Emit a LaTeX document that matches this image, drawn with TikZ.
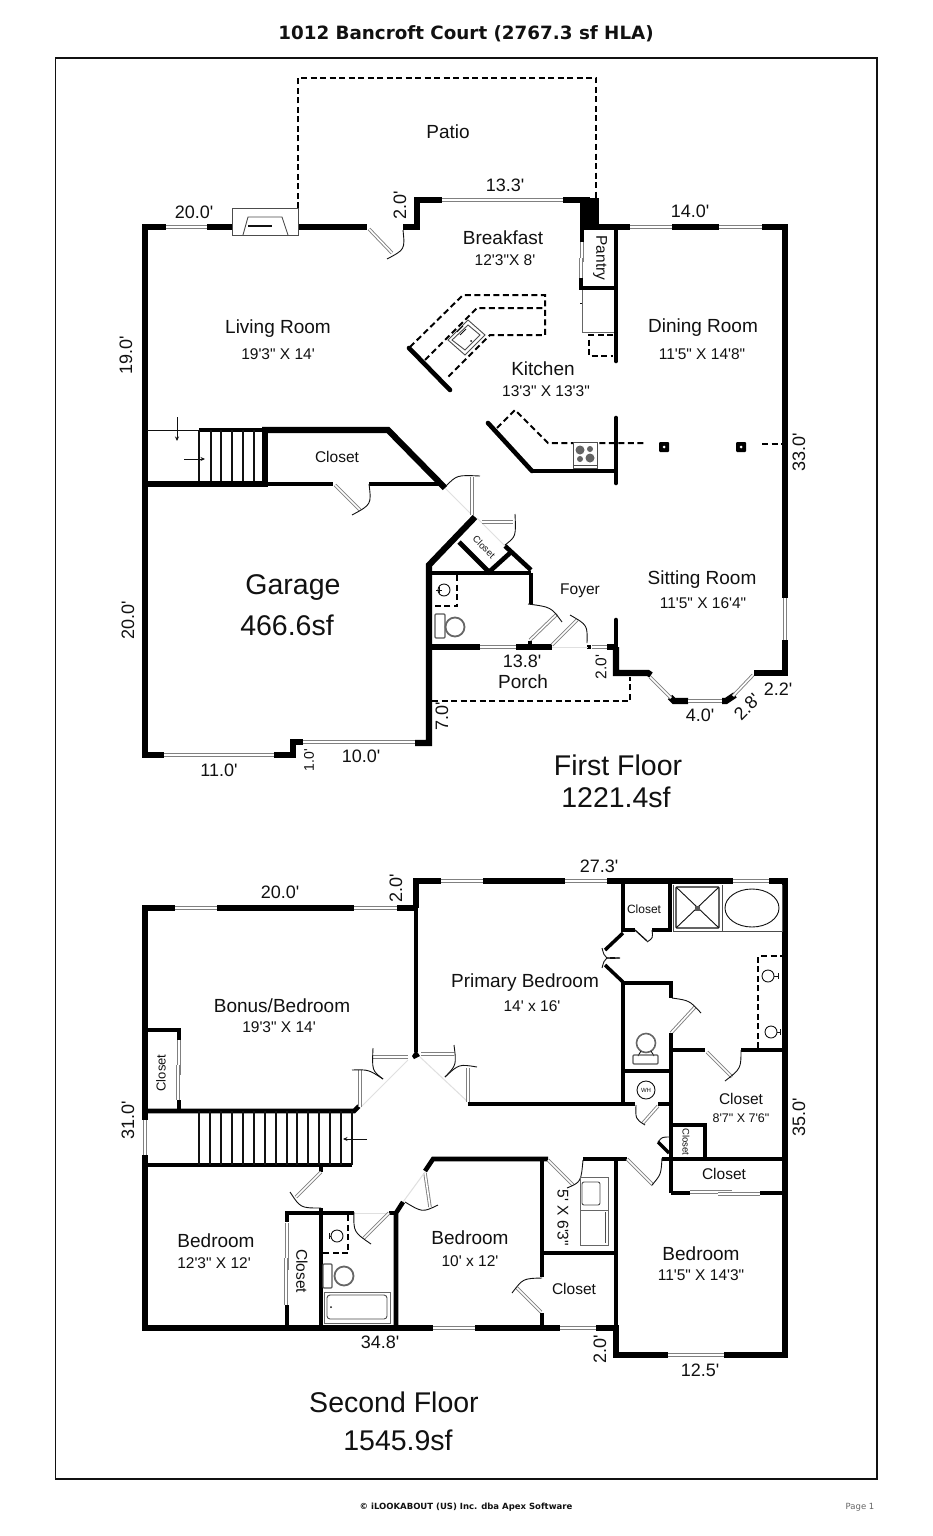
\documentclass[tikz,border=0pt]{standalone}
\usepackage{fontspec}
\newfontfamily\lib{Liberation Sans}
\newfontfamily\dej{DejaVu Sans}
\def\fs#1{\fontsize{#1}{#1}\selectfont}
\definecolor{ink}{HTML}{111111}
\definecolor{winc}{HTML}{808080}
\usetikzlibrary{arrows.meta}
\tikzset{
 every node/.style={inner sep=0pt,text=ink,font=\lib},
 rm/.style={font=\lib\fs{19}},
 dm/.style={font=\lib\fs{15.5}},
 dl/.style={font=\lib\fs{18}},
 md/.style={font=\lib\fs{15.5}},
 hg/.style={font=\lib\fs{28.5}},
 wall/.style={draw=black,line width=6.2pt,line join=miter,line cap=butt},
 wallm/.style={draw=black,line width=4.6pt,line join=miter,line cap=butt},
 wallt/.style={draw=black,line width=3.5pt,line join=miter,line cap=butt},
 wins/.style={draw=winc,line width=3.4pt},
 winw/.style={draw=white,line width=1.6pt},
 arcl/.style={draw=ink,line width=.9pt},
 dsh/.style={draw=black,line width=2pt,dash pattern=on 6pt off 3.5pt},
 fine/.style={draw=ink,line width=.9pt},
 ghost/.style={draw=black!12,line width=1pt},
 mov/.style={draw=ink,line width=.9pt,-{Stealth[length=4.5pt,width=4pt]}},
}
\def\Wn(#1)(#2){\draw[wins] (#1)--(#2);\draw[winw] (#1)--(#2);}
\begin{document}
\begin{tikzpicture}[x=1pt,y=-1pt]
\useasboundingbox (0,0) rectangle (932,1536);
\fill[white] (0,0) rectangle (932,1536);
\draw[draw=ink,line width=1.5pt] (55.5,58) rectangle (877,1479);
\node[font=\dej\bfseries\fs{18.3}] (title) at (466,34) {1012 Bancroft Court (2767.3 sf HLA)};

%%%%% FIRST FLOOR
% patio
\draw[dsh] (298,208)--(298,78)--(596,78)--(596,198);
% outer walls
\draw[wall] (166,227)--(145,227)--(145,755)--(164,755);
\draw[wall] (207,227)--(232,227);
\draw[wall] (298,227)--(367,227);
\draw[wall] (403,227)--(417,227)--(417,200)--(442,200);
\draw[wall] (563,200)--(590,200);
\fill[black] (580,198) rectangle (599,230);
\draw[wall] (599,227)--(630,227);
\draw[wall] (672,227)--(719,227);
\draw[wall] (762,227)--(785,227)--(785,598);
\draw[wall] (785,640)--(785,673)--(754,673);
\draw[wall] (735,695)--(726,701)--(722,701);
\draw[wall] (688,701)--(674,701)--(670,697);
\draw[wall] (651,675)--(648,673)--(616,673)--(616,647);
\draw[wallm,line cap=round] (616,647)--(616,620);
\draw[wall] (616,647)--(607,647);
\draw[wallm] (591,647)--(587,647);
\draw[wall] (552,647)--(516,647);
\draw[wall] (480,647)--(429,647);
\draw[wall] (475,517)--(429,565)--(429,743)--(415,743);
\draw[wall] (303,742)--(293,742)--(293,755)--(274,755);
% windows
\Wn(166,227)(207,227)
\Wn(442,200)(563,200)
\Wn(630,227)(672,227)
\Wn(719,227)(762,227)
\Wn(785,598)(785,640)
\Wn(753,675)(733,696)
\Wn(688,701)(722,701)
\Wn(650,677)(671,698)
\Wn(592,647)(607,647)
\Wn(480,647)(516,647)
\Wn(303,742)(415,742)
\Wn(164,755)(274,755)
% fireplace
\draw[fine,draw=black!70,fill=white] (232,208) rectangle (298,235);
\draw[fine,draw=black!70] (243,235)--(248,217)--(282,217)--(288,235);
\draw[ink,line width=1.5pt] (248,226)--(272,226);
% living door
\Wn(369,229)(392,253)
\draw[arcl] (387,259) .. controls (405,249.5) .. (403,230);
% stairs 1
\draw[fine,line width=1pt] (147,430)--(199,430);
\draw[wallt] (199,430)--(265,430);
\foreach \x in {199,211,221,232,243,254}{\draw[fine,line width=1.3pt] (\x,430)--(\x,484);}
\draw[wall] (265,427)--(265,487);
\draw[wall] (262,430)--(388,430)--(445,488);
\draw[wall] (145,484)--(265,484);
\draw[wallm] (265,484)--(333,484);
\draw[wallm] (369,484)--(440,484);
\draw[mov] (177,417)--(177,441);
\draw[mov] (184,459)--(205,459);
% closet door
\Wn(335,485)(360,510)
\draw[arcl] (352,515) .. controls (371.5,504.5) .. (369,484);
% kitchen door
\draw[ghost] (445,488)--(472,515);
\Wn(472,477)(472,515)
\draw[arcl] (446,486) .. controls (457,475) .. (480,476);
% closet (diag)
\draw[ghost] (477,518)--(505,546);
\Wn(482,522)(513,522)
\draw[arcl] (515,514) .. controls (516,536.5) .. (505,545);
\draw[wallm] (429,573)--(531,573);
\draw[wallm] (531,570)--(505,546);
\draw[wallm] (531,573)--(531,604);
\draw[wallm] (459,542)--(489,572)--(510,553);
% bath
\draw[dsh] (457,575)--(457,606)--(432,606);
\draw[fine] (444,590) circle (6);
\draw[fine] (436,590)--(442,590);\draw[fine] (439,587)--(439,593);
\draw[fine,draw=black!65,line width=1.2pt,rounded corners=1pt] (435,614) rectangle (445,638);
\draw[draw=black!60,line width=1.8pt] (455,627) circle (9.5);
% foyer doors
\draw[wallm] (530,641)--(530,647);
\Wn(530,640)(557,614)
\draw[arcl] (528,604) .. controls (551,607) .. (562,622);
\Wn(552,645)(577,620)
\draw[arcl] (570,615) .. controls (587.5,625) .. (587,643);
\draw[ghost] (552,647)--(588,647);
% porch
\draw[dsh] (432,701)--(630,701)--(630,677);
% pantry etc
\draw[wallm] (582,229)--(582,242);
\Wn(582,242)(582,262)
\Wn(581,258)(581,278)
\draw[wallm] (581,278)--(581,290);
\draw[wallm] (579,288)--(616,288);
\draw[wallm,line cap=round] (616,227)--(616,361);
\draw[fine,draw=black!60] (582,290)--(582,332)--(614,332);
\draw[fine] (580,303)--(582,303);
\draw[dsh] (613,335)--(589,335)--(589,356)--(613,356);
% kitchen lower
\draw[wallm,line cap=round] (616,418)--(616,483);
\draw[wallm] (616,471)--(532,471);
\draw[wallm,line cap=round] (532,471)--(488,423);
\draw[dsh] (497,428)--(515,410)--(548,443)--(645,443);
\draw[dsh] (762,444)--(783,444);
\foreach \x in {664,741}{\fill[black,rounded corners=1pt] (\x-5,442) rectangle (\x+5,452);\fill[white] (\x,447) circle (1.5);}
% range
\draw[fine,draw=black!70,fill=white] (573,442) rectangle (597,468);
\draw[fine,draw=black!70] (573,465)--(597,465);
\fill[ink!65] (580,450) circle (4.5) (590,449) circle (3) (580,459) circle (3) (590,458) circle (4.5);
% island
\draw[wallm,line cap=round] (409,348)--(450,390);
\draw[dsh] (410,347)--(463,295)--(545,295)--(545,335)--(490,335)--(447,378);
\draw[dsh] (425,360)--(477,308)--(545,308);
\draw[fine,draw=black!70,fill=white] (448,340)--(468,320)--(485,335)--(465,355)--cycle;
\draw[fine,draw=black!70] (452,340)--(468,325)--(480,335)--(465,350)--cycle;
\draw[fine] (457,332)--(463,326) (460,335)--(466,329);
\fill[ink] (471,341) circle (1);
% first floor labels
\node[rm] (patio) at (448,132) {Patio};
\node[dl] (d1) at (194,212) {20.0'};
\node[dl,rotate=90] (d2) at (400,205) {2.0'};
\node[dl] (d3) at (505,185) {13.3'};
\node[rm] (n1) at (503,238) {Breakfast};
\node[dm] (n1d) at (505,260) {12'3"X 8'};
\node[dl] (d4) at (690,211) {14.0'};
\node[md,rotate=-90] (n2) at (600,258) {Pantry};
\node[rm] (n3) at (703,328) {Dining Room};
\node[dm] (n3d) at (702,354) {11'5" X 14'8"};
\node[rm] (n4) at (543,369) {Kitchen};
\node[dm] (n4d) at (546,391) {13'3" X 13'3"};
\node[rm] (n5) at (278,329) {Living Room};
\node[dm] (n5d) at (278,354) {19'3" X 14'};
\node[dl,rotate=90] (d5) at (126,355) {19.0'};
\node[dl,rotate=90] (d6) at (799,452) {33.0'};
\node[md] (n6) at (337,457) {Closet};
\node[hg] (n7) at (293,588) {Garage};
\node[hg] (n7d) at (287,625) {466.6sf};
\node[dl,rotate=90] (d7) at (128,620) {20.0'};
\node[font=\lib\fs{9.5},rotate=-45] (n8) at (484,547) {Closet};
\node[md] (n9) at (580,591) {Foyer};
\node[rm] (n10) at (702,580) {Sitting Room};
\node[dm] (n10d) at (703,603) {11'5" X 16'4"};
\node[dl] (d8) at (522,661) {13.8'};
\node[rm] (n11) at (523,682) {Porch};
\node[md,rotate=90] (d9) at (601,667) {2.0'};
\node[dl] (d10) at (778,689) {2.2'};
\node[dl] (d11) at (700,715) {4.0'};
\node[dl,rotate=45] (d12) at (747,707) {2.8'};
\node[dl,rotate=90] (d13) at (442,716) {7.0'};
\node[font=\lib\fs{14},rotate=90] (d14) at (309,760) {1.0'};
\node[dl] (d15) at (361,756) {10.0'};
\node[dl] (d16) at (219,770) {11.0'};
\node[hg] (f1) at (618,765) {First Floor};
\node[hg] (f1a) at (616,797) {1221.4sf};

%%%%% SECOND FLOOR
% outer
\draw[wall] (175,908)--(145,908)--(145,1120);
\draw[wall] (145,1155)--(145,1328)--(433,1328);
\draw[wall] (217,908)--(354,908);
\draw[wall] (397,908)--(416,908);
\draw[wall] (416,908)--(416,881)--(441,881);
\draw[wall] (483,881)--(565,881);
\draw[wall] (607,881)--(733,881);
\draw[wall] (769,881)--(785,881)--(785,1355)--(724,1355);
\draw[wall] (668,1355)--(616,1355)--(616,1328)--(596,1328);
\draw[wallm] (416,905)--(416,1052);
\draw[wall] (475,1328)--(560,1328);
\Wn(441,881)(483,881)
\Wn(565,881)(607,881)
\Wn(733,881)(769,881)
\Wn(175,908)(217,908)
\Wn(354,908)(397,908)
\Wn(145,1120)(145,1155)
\Wn(433,1328)(475,1328)
\Wn(560,1328)(596,1328)
\Wn(668,1355)(724,1355)
% bonus closet
\draw[wallm] (148,1030)--(179,1030)--(179,1040);
\Wn(179,1040)(179,1075)
\Wn(178,1065)(178,1100)
\draw[wallm] (179,1100)--(179,1111);
% stairs 2
\draw[wallm] (145,1111)--(354,1111)--(359,1106);
\draw[wallm] (145,1165)--(352,1165);
\foreach \x in {199,210,221,232,243,254,265,276,287,297,308,319,330,341,352}{\draw[fine,line width=1.3pt] (\x,1111)--(\x,1165);}
\draw[mov] (367,1139)--(343,1139);
% double doors to bonus / primary
\fill[black] (412,1056) -- (416,1050) -- (420,1056) -- (414,1059) -- cycle;
\draw[ghost] (360,1108)--(408,1060);
\draw[ghost] (420,1057)--(468,1102);
\Wn(408,1057)(373,1057)
\Wn(360,1070)(360,1107)
\draw[arcl] (373,1048) .. controls (372,1070.5) .. (383,1079);
\draw[arcl] (352,1070) .. controls (368.5,1069.5) .. (383,1079);
\Wn(421,1054)(454,1054)
\Wn(468,1068)(468,1102)
\draw[arcl] (454,1045) .. controls (456.5,1065) .. (445,1077);
\draw[arcl] (477,1067) .. controls (459,1064) .. (445,1077);
% primary interior
\draw[wallm] (468,1104)--(635,1104);
\draw[wallm] (658,1104)--(670,1104);
\draw[wallm] (623,881)--(623,930)--(635,930);
\draw[wallm] (652,930)--(670,930);
\draw[wallm] (670,881)--(670,932);
\draw[fine,line width=1.3pt] (635,930)--(647,941);
\draw[arcl] (647,942) .. controls (653,938) .. (652,930);
\draw[fine,draw=black!70] (673,885)--(673,931)--(782,931)--(782,885);
\draw[fine,draw=black!70] (722,885)--(722,931);
\draw[fine,line width=1.3pt,rounded corners=1pt] (676,887) rectangle (719,928);
\draw[fine] (676,887)--(719,928) (719,887)--(676,928);
\fill[ink!70] (694.5,905.5) rectangle (699.5,910.5);
\draw[fine] (752,908) ellipse (27 and 19);
\draw[wallt] (623,933)--(605,950);
\draw[wallt] (605,965)--(623,982);
\draw[arcl] (602,948) .. controls (605,959) .. (620,958);
\draw[arcl] (602,968) .. controls (605,957) .. (620,958);
\draw[wallm] (623,1104)--(623,983)--(671,983)--(671,998);
\Wn(671,1033)(695,1007)
\draw[arcl] (672,998) .. controls (689.5,1000.5) .. (701,1013);
\draw[wallm] (671,1033)--(671,1193);
\draw[wallm] (671,1050)--(705,1050);
\draw[wallm] (741,1050)--(785,1050);
\Wn(707,1052)(732,1077)
\draw[arcl] (725,1081) .. controls (741,1068.5) .. (741,1050);
\draw[dsh] (758,1048)--(758,956)--(783,956);
\draw[fine] (768,976) circle (6);
\draw[fine] (771,1032) circle (6);
\draw[fine] (774,976)--(778,976) (778,973)--(778,979);
\draw[fine] (777,1032)--(780,1032) (780,1029)--(780,1035);
\draw[draw=black!60,line width=1.6pt] (646,1043) circle (9.5);
\draw[fine] (641,1051)--(638,1056) (651,1051)--(654,1056);
\draw[fine,draw=black!65,line width=1.2pt,rounded corners=1pt] (633,1055) rectangle (658,1064);
\draw[wallm] (623,1071)--(671,1071);
\draw[fine] (646,1090) circle (9);
\node[font=\lib\fs{6}] (wh) at (646,1090.5) {WH};
\Wn(643,1123)(658,1106)
\draw[arcl] (636,1105) .. controls (635.5,1119) .. (645,1125);
\draw[wallm] (671,1125)--(705,1125)--(705,1158);
\draw[wallt] (658,1142)--(669,1153);
\draw[arcl] (658,1142) .. controls (662,1137) .. (670,1137);
% hall lower wall
\draw[wallm] (425,1171)--(433,1159)--(548,1159);
\draw[wallm] (583,1159)--(627,1159);
\draw[wallm] (662,1159)--(785,1159);
\draw[wallm] (616,1159)--(616,1330);
\draw[wallm] (542,1159)--(542,1277);
\draw[wallm] (542,1313)--(542,1328);
\draw[wallm] (542,1253)--(616,1253);
\Wn(548,1160)(573,1185)
\draw[arcl] (567,1188) .. controls (581,1182) .. (583,1160);
\Wn(627,1159)(653,1185)
\draw[arcl] (652,1185) .. controls (661,1174.5) .. (662,1158);
\draw[wallm] (671,1193)--(690,1193);
\draw[wallm] (760,1193)--(785,1193);
\Wn(690,1192)(732,1192)
\Wn(718,1194)(760,1194)
% laundry
\draw[fine,draw=black!60] (580,1177) rectangle (608,1210);
\draw[fine,draw=black!60] (580,1210) rectangle (608,1245);
\draw[fine,draw=black!70,rounded corners=2pt] (582,1182) rectangle (600,1205);
\draw[fine,draw=black!70] (605,1212)--(605,1243);
% closet 3 door
\Wn(517,1288)(541,1312)
\draw[arcl] (512,1293) .. controls (523,1278.5) .. (542,1278);
% bedroom 10x12 door
\Wn(425,1173)(430,1207)
\draw[arcl] (405,1202) .. controls (422.5,1212.5) .. (438,1205);
\draw[ghost] (403,1202)--(425,1172);
\draw[wallm] (403,1202)--(396,1213)--(396,1328);
\draw[wallm] (389,1213)--(396,1213);
% bath 2
\draw[wallm] (287,1222)--(287,1213)--(354,1213);
\draw[ghost] (354,1213)--(389,1213);
\Wn(389,1213)(364,1238)
\draw[arcl] (354,1212) .. controls (353.5,1232) .. (371,1244);
\draw[wallm] (321,1165)--(321,1172);
\Wn(321,1172)(296,1197)
\draw[arcl] (290,1192) .. controls (300.5,1208) .. (321,1208);
\draw[wallm] (321,1208)--(321,1328);
\Wn(287,1223)(287,1270)
\Wn(286,1258)(286,1305)
\draw[wallm] (287,1305)--(287,1328);
\draw[dsh] (348,1215)--(348,1253)--(323,1253);
\draw[fine] (337,1236) circle (6);
\draw[fine] (331,1236)--(329,1236) (329,1233)--(329,1239);
\draw[fine,draw=black!65,line width=1.2pt,rounded corners=1pt] (323,1264) rectangle (332,1288);
\draw[draw=black!60,line width=1.8pt] (344,1276) circle (9.5);
\draw[fine,draw=black!60] (324,1292) rectangle (390,1323);
\draw[fine,draw=black!70,rounded corners=3pt] (327,1295) rectangle (387,1319);
\fill[ink] (331,1307) circle (1);
% second floor labels
\node[dl] (e1) at (280,892) {20.0'};
\node[dl,rotate=90] (e2) at (396,888) {2.0'};
\node[dl] (e3) at (599,866) {27.3'};
\node[font=\lib\fs{12}] (m1) at (644,909) {Closet};
\node[rm] (m2) at (525,983) {Primary Bedroom};
\node[dm] (m2d) at (532,1006) {14' x 16'};
\node[rm] (m3) at (282,1006) {Bonus/Bedroom};
\node[dm] (m3d) at (279,1027) {19'3" X 14'};
\node[font=\lib\fs{13},rotate=90] (m4) at (161,1073) {Closet};
\node[md] (m5) at (741,1099) {Closet};
\node[font=\lib\fs{12.5}] (m5d) at (741,1118) {8'7" X 7'6"};
\node[font=\lib\fs{9.5},rotate=-90] (m6) at (686,1142) {Closet};
\node[dl,rotate=90] (e4) at (799,1117) {35.0'};
\node[dl,rotate=90] (e5) at (128,1120) {31.0'};
\node[md] (m7) at (724,1174) {Closet};
\node[rm] (m8) at (216,1241) {Bedroom};
\node[dm] (m8d) at (214,1263) {12'3" X 12'};
\node[md,rotate=-90] (m9) at (302,1271) {Closet};
\node[rm] (m10) at (470,1238) {Bedroom};
\node[dm] (m10d) at (470,1261) {10' x 12'};
\node[md] (m11) at (574,1289) {Closet};
\node[md,rotate=-90] (m12) at (563,1218) {5' X 6'3"};
\node[rm] (m13) at (701,1254) {Bedroom};
\node[dm] (m13d) at (701,1275) {11'5" X 14'3"};
\node[dl] (e6) at (380,1342) {34.8'};
\node[dl,rotate=90] (e7) at (600,1349) {2.0'};
\node[dl] (e8) at (700,1370) {12.5'};
\node[hg] (f2) at (394,1402) {Second Floor};
\node[hg] (f2a) at (398,1440) {1545.9sf};
% footer
\node[font=\dej\bfseries\fs{8.5}] (foot) at (466,1507) {© iLOOKABOUT (US) Inc. dba Apex Software};
\node[font=\dej\fs{8.5},text=black!60] (page) at (860,1507) {Page 1};
\end{tikzpicture}
\end{document}
